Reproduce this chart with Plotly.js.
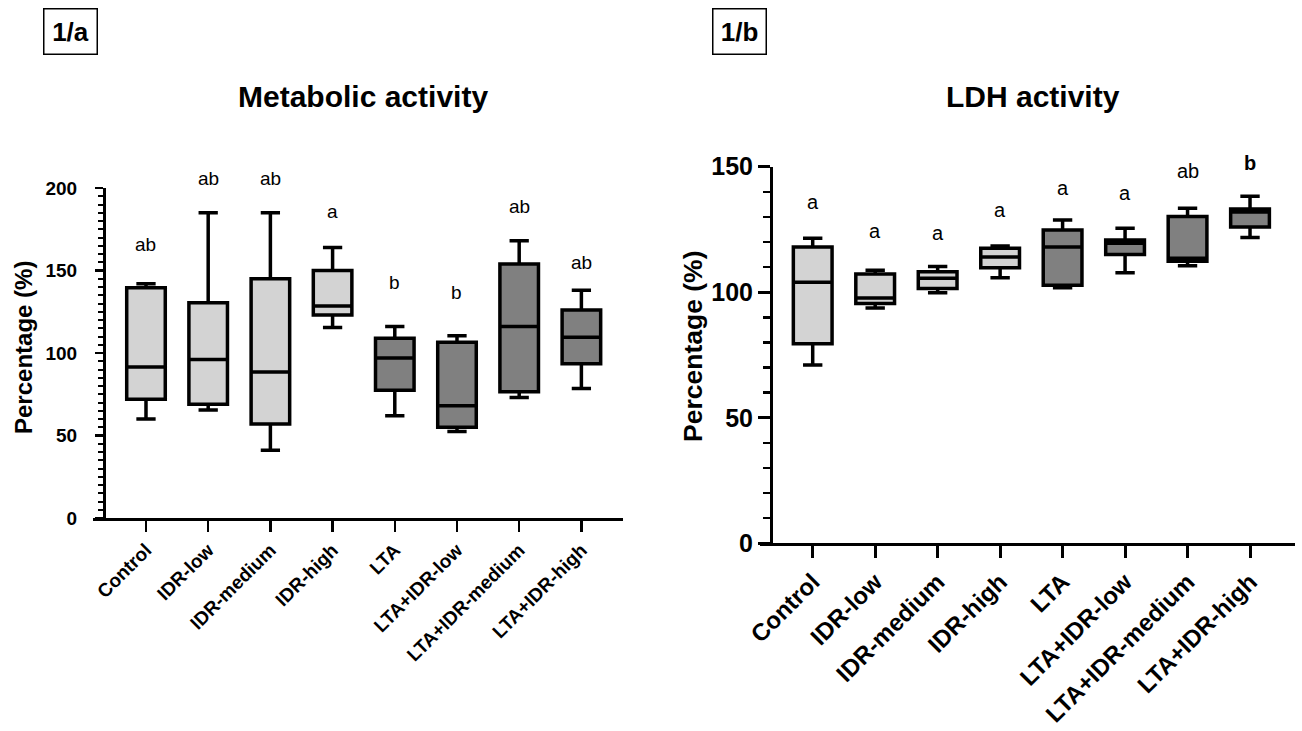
<!DOCTYPE html>
<html>
<head>
<meta charset="utf-8">
<script src="https://cdn.plot.ly/plotly-3.0.1.min.js"></script>
<style>html,body{margin:0;padding:0;background:#fff;}#chart{width:1302px;height:731px;}</style>
</head>
<body>
<div id="chart"></div>
<script>
// ---- data ----
var categories = ["Control","IDR-low","IDR-medium","IDR-high","LTA","LTA+IDR-low","LTA+IDR-medium","LTA+IDR-high"];

// Panel 1/a : Metabolic activity (%)
var metMin    = [60,   65.5, 41,   115.5, 62,   52.5, 73,   78.5];
var metQ1     = [72,   69,   57,   123,   77.5, 55,   76.5, 93.5];
var metMedian = [91.5, 96,   88.5, 128.5, 97,   68,   116,  109.5];
var metQ3     = [139.5,130.5,145,  150,   109,  106.5,154,  126];
var metMax    = [142,  185,  185,  164,   116,  110.5,168,  138];
var metLetters = ["ab","ab","ab","a","b","b","ab","ab"];
var metLetterY = [166, 205.5, 205.5, 185.5, 143, 136.5, 189, 155];

// Panel 1/b : LDH activity (%)
var ldhMin    = [71,   93.7, 99.8, 105.8, 101.8, 107.8, 110.5, 121.8];
var ldhQ1     = [79.5, 95.5, 101.5,109.8, 102.8, 115,   112.3, 126];
var ldhMedian = [104,  97.7, 105.6,114,   118,   119.5, 113.5, 132];
var ldhQ3     = [118,  107.3,108.2,117.5, 124.8, 120.8, 130.2, 133.2];
var ldhMax    = [121.5,108.8,110.2,118.4, 128.8, 125.5, 133.5, 138.2];
var ldhLetters = ["a","a","a","a","a","a","ab","<b>b</b>"];
var ldhLetterY = [136, 124.2, 123.5, 132.8, 141.4, 139.4, 148.4, 151.6];

var yTicksMet = [0, 50, 100, 150, 200];
var yTicksLdh = [0, 50, 100, 150];
var metYMax = 200, ldhYMax = 150;

// ---- styling ----
var FONT = "Liberation Sans, Arial, Helvetica, sans-serif";
var LIGHT = "#d3d3d3", DARK = "#808080";

function sub(arr, a, b){ return arr.slice(a, b); }

function boxTrace(xa, ya, cats, mn, q1, md, q3, mx, fill, lw){
  return {
    type: "box", xaxis: xa, yaxis: ya,
    x: cats, q1: q1, median: md, q3: q3, lowerfence: mn, upperfence: mx,
    fillcolor: fill, line: {color: "black", width: lw},
    width: 0.62, whiskerwidth: 0.5, boxpoints: false,
    showlegend: false, hoverinfo: "skip"
  };
}

var traces = [
  boxTrace("x","y", sub(categories,0,4), sub(metMin,0,4), sub(metQ1,0,4), sub(metMedian,0,4), sub(metQ3,0,4), sub(metMax,0,4), LIGHT, 3.5),
  boxTrace("x","y", sub(categories,4,8), sub(metMin,4,8), sub(metQ1,4,8), sub(metMedian,4,8), sub(metQ3,4,8), sub(metMax,4,8), DARK, 3.5),
  boxTrace("x2","y2", sub(categories,0,4), sub(ldhMin,0,4), sub(ldhQ1,0,4), sub(ldhMedian,0,4), sub(ldhQ3,0,4), sub(ldhMax,0,4), LIGHT, 3.5),
  boxTrace("x2","y2", sub(categories,4,8), sub(ldhMin,4,8), sub(ldhQ1,4,8), sub(ldhMedian,4,8), sub(ldhQ3,4,8), sub(ldhMax,4,8), DARK, 3.5)
];

var W = 1302, H = 731;
function px(v){ return v / W; }
function py(v){ return 1 - v / H; }

var annotations = [
  {xref:"paper", yref:"paper", x: px(70.5), y: py(31.5), xanchor:"center", yanchor:"middle",
   text:"<b>1/a</b>", showarrow:false, font:{family:FONT, size:26, color:"black"},
   bordercolor:"black", borderwidth:1.5, borderpad:0, width:52, height:44},
  {xref:"paper", yref:"paper", x: px(739), y: py(31.5), xanchor:"center", yanchor:"middle",
   text:"<b>1/b</b>", showarrow:false, font:{family:FONT, size:26, color:"black"},
   bordercolor:"black", borderwidth:1.5, borderpad:0, width:52, height:44},
  {xref:"paper", yref:"paper", x: px(363), y: py(96), xanchor:"center", yanchor:"middle",
   text:"<b>Metabolic activity</b>", showarrow:false, font:{family:FONT, size:30, color:"black"}},
  {xref:"paper", yref:"paper", x: px(1033), y: py(96), xanchor:"center", yanchor:"middle",
   text:"<b>LDH activity</b>", showarrow:false, font:{family:FONT, size:30, color:"black"}},
  {xref:"paper", yref:"paper", x: px(23), y: py(348), xanchor:"center", yanchor:"middle", textangle:-90,
   text:"<b>Percentage (%)</b>", showarrow:false, font:{family:FONT, size:24, color:"black"}},
  {xref:"paper", yref:"paper", x: px(693), y: py(347), xanchor:"center", yanchor:"middle", textangle:-90,
   text:"<b>Percentage (%)</b>", showarrow:false, font:{family:FONT, size:26.5, color:"black"}}
];

categories.forEach(function(c, i){
  annotations.push({xref:"x", yref:"y domain", x: c, y: metLetterY[i] / metYMax,
    xanchor:"center", yanchor:"middle", text: metLetters[i], showarrow:false,
    font:{family:FONT, size:19, color:"black"}});
  annotations.push({xref:"x2", yref:"y2 domain", x: c, y: ldhLetterY[i] / ldhYMax,
    xanchor:"center", yanchor:"middle", text: ldhLetters[i], showarrow:false,
    font:{family:FONT, size:20, color:"black"}});
});

var layout = {
  width: W, height: H,
  margin: {l:0, r:0, t:0, b:0},
  paper_bgcolor: "white", plot_bgcolor: "white",
  font: {family: FONT, color: "black"},
  showlegend: false,
  boxmode: "overlay",
  xaxis: {
    domain: [px(93), px(623)], anchor: "y",
    type: "category", categoryorder: "array", categoryarray: categories,
    range: [-0.852, 7.669], fixedrange: true,
    showline: true, linecolor: "black", linewidth: 2.5,
    ticks: "outside", ticklen: 11, tickwidth: 2.5, tickcolor: "black",
    tickangle: -45, tickfont: {family: FONT, size: 19, weight: "bold", color: "black"},
    showgrid: false, zeroline: false, automargin: false
  },
  yaxis: {
    domain: [py(518), py(188)], anchor: "free", position: px(104),
    range: [0, metYMax], fixedrange: true,
    tickmode: "array", tickvals: yTicksMet, ticktext: yTicksMet.map(String),
    showline: true, linecolor: "black", linewidth: 2.5,
    ticks: "outside", ticklen: 8, tickwidth: 2.5, tickcolor: "black",
    ticklabelstandoff: 14,
    minor: {dtick: 5, ticks: "outside", ticklen: 5, tickwidth: 2, tickcolor: "black", showgrid: false},
    tickfont: {family: FONT, size: 19, weight: "bold", color: "black"},
    showgrid: false, zeroline: false, automargin: false
  },
  xaxis2: {
    domain: [px(760), px(1295)], anchor: "y2",
    type: "category", categoryorder: "array", categoryarray: categories,
    range: [-0.8436, 7.72], fixedrange: true,
    showline: true, linecolor: "black", linewidth: 3,
    ticks: "outside", ticklen: 12, tickwidth: 3, tickcolor: "black",
    tickangle: -45, tickfont: {family: FONT, size: 24, weight: "bold", color: "black"},
    showgrid: false, zeroline: false, automargin: false
  },
  yaxis2: {
    domain: [py(543.3), py(166.7)], anchor: "free", position: px(771),
    range: [0, ldhYMax], fixedrange: true,
    tickmode: "array", tickvals: yTicksLdh, ticktext: yTicksLdh.map(String),
    showline: true, linecolor: "black", linewidth: 3,
    ticks: "outside", ticklen: 12, tickwidth: 3, tickcolor: "black",
    minor: {dtick: 10, ticks: "outside", ticklen: 7, tickwidth: 2.5, tickcolor: "black", showgrid: false},
    tickfont: {family: FONT, size: 25, weight: "bold", color: "black"},
    showgrid: false, zeroline: false, automargin: false
  },
  annotations: annotations
};

Plotly.newPlot("chart", traces, layout, {displayModeBar:false, staticPlot:true});
</script>
</body>
</html>
